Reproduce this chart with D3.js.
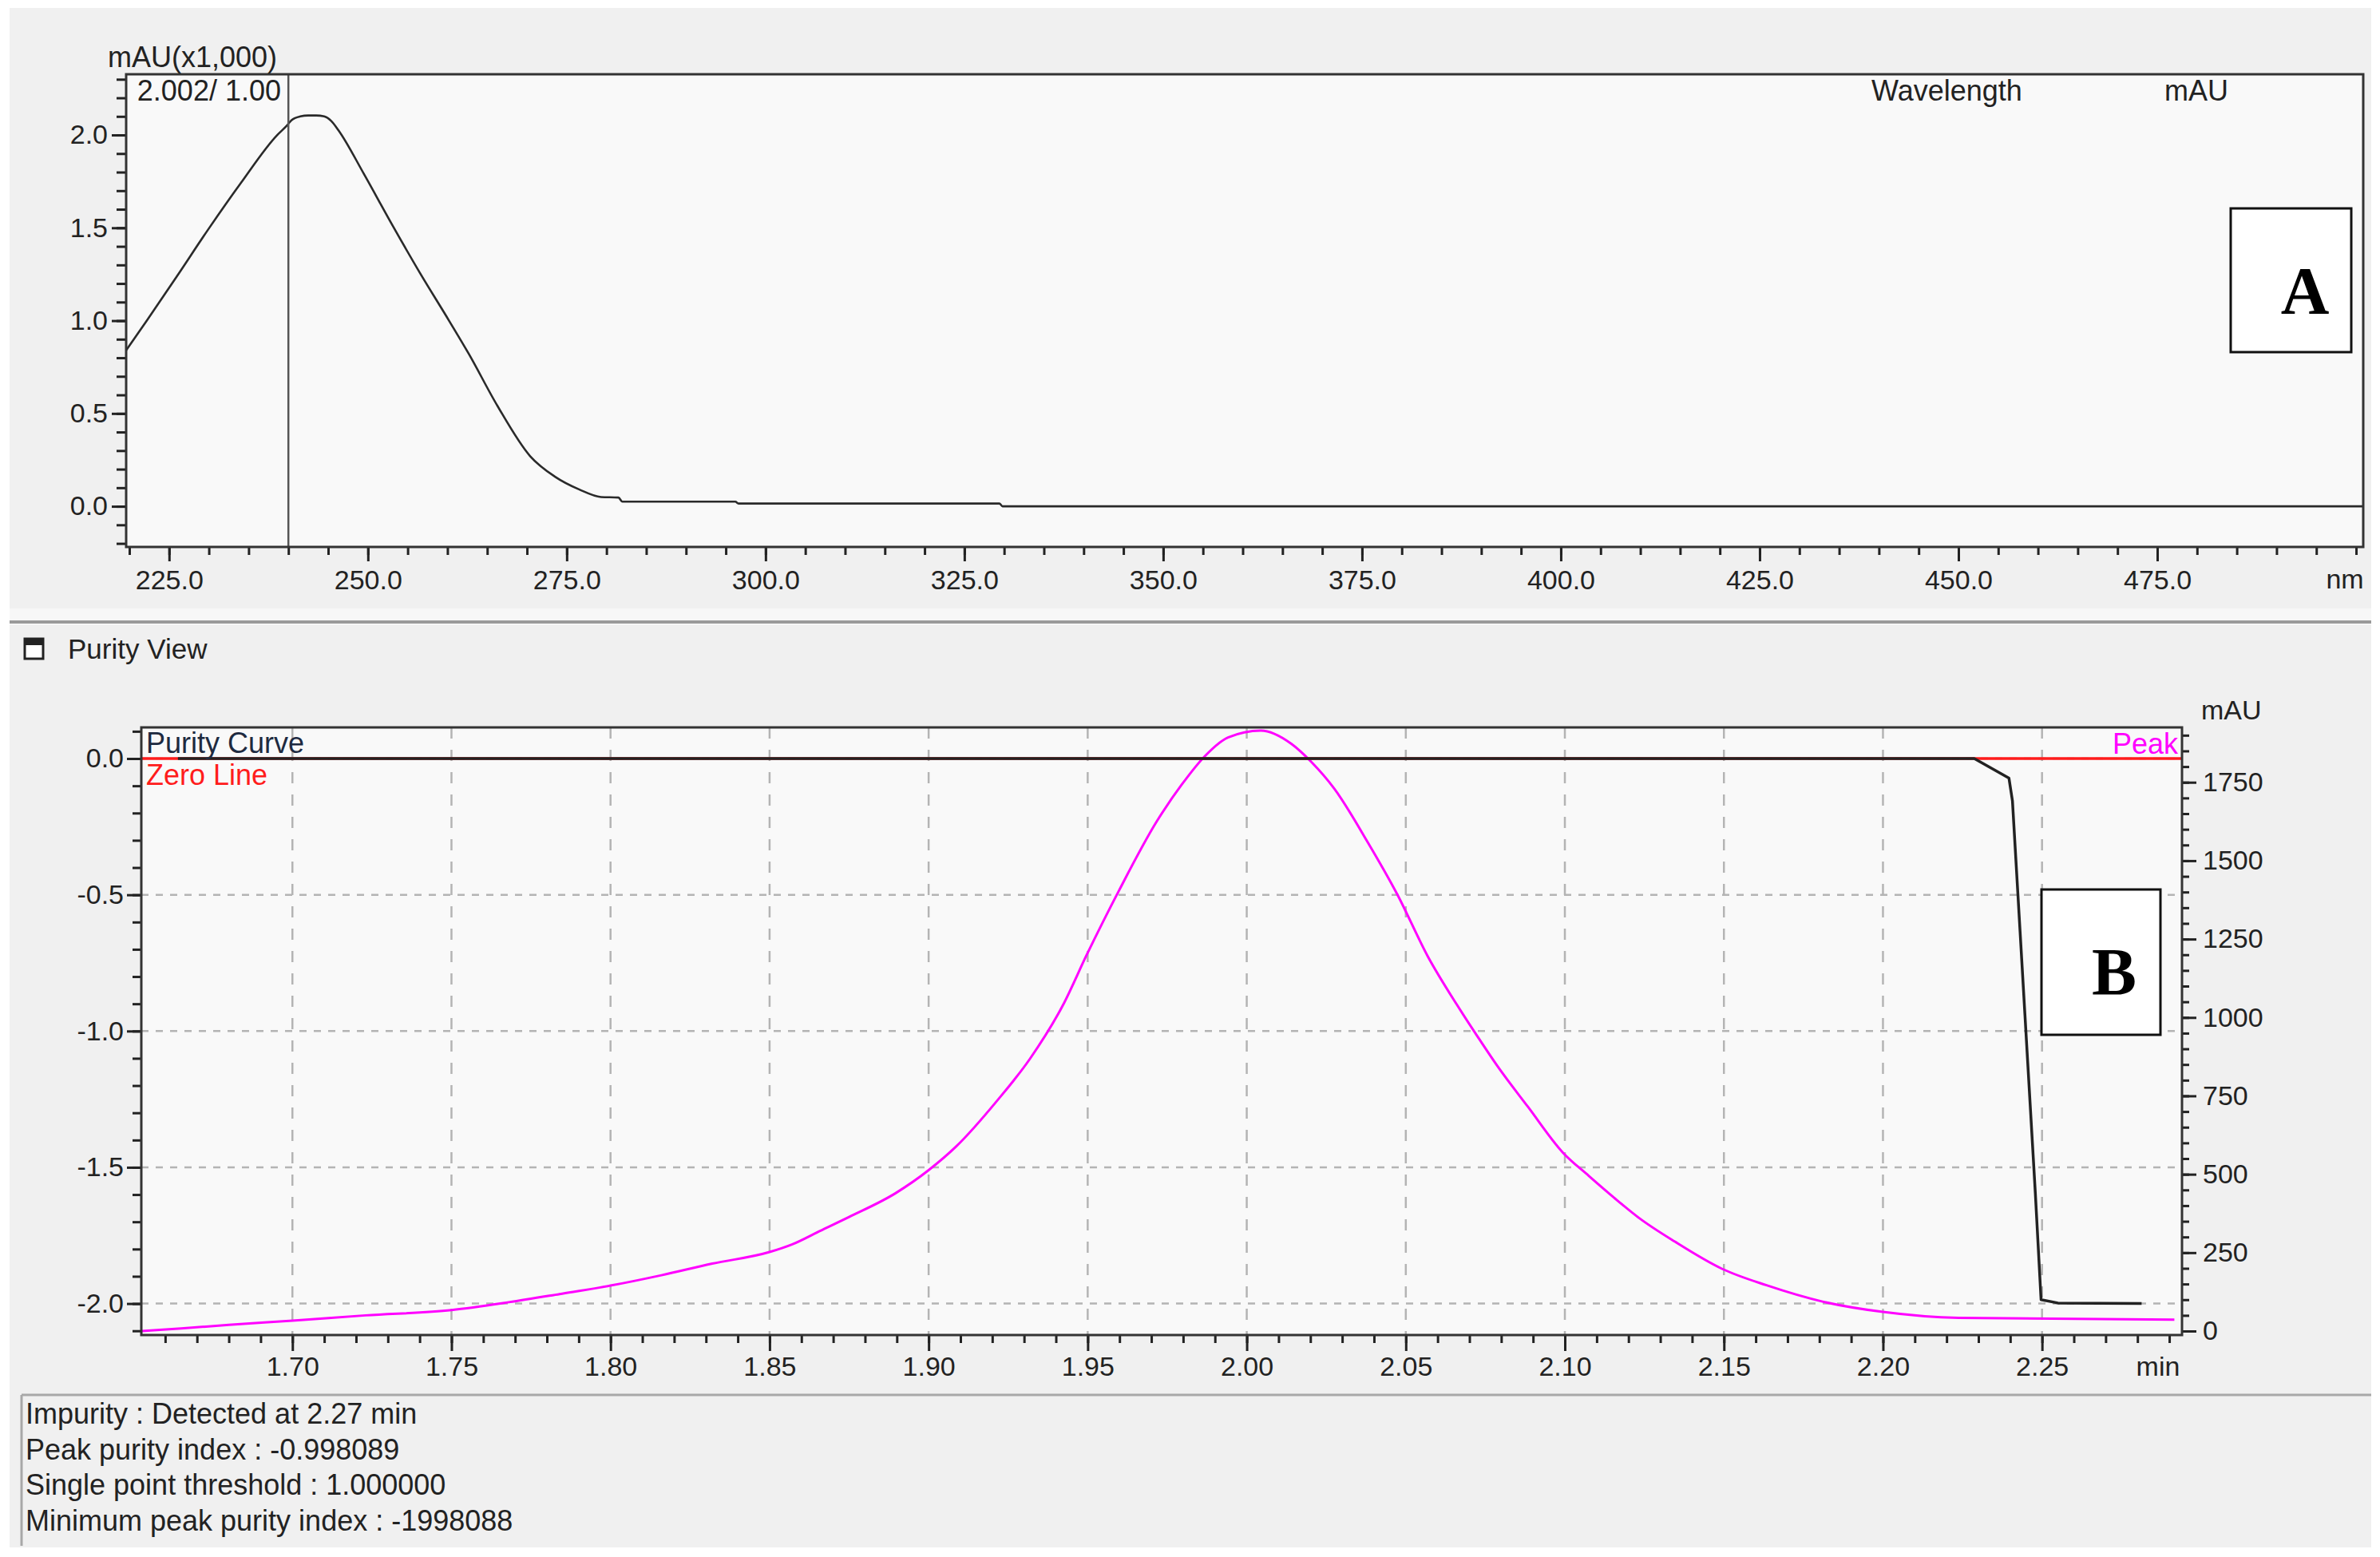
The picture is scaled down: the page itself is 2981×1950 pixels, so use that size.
<!DOCTYPE html>
<html><head><meta charset="utf-8">
<script src="https://cdn.jsdelivr.net/npm/d3@7"></script>
<style>
html,body{margin:0;padding:0;background:#fff;}
svg{display:block;font-family:"Liberation Sans",Arial,sans-serif;}
</style></head><body>
<svg id="c" width="2981" height="1950"></svg>
<script>
// ---------- Panel A : UV spectrum ----------
const specWavelength = [219.6, 222.2, 226, 229.9, 234, 238.6, 239.8, 240.4, 241.5, 242.5, 243.5, 244.5, 245.4, 246.3, 249.5, 253, 256.5, 260.2, 262.7, 266.3, 270.4, 273.5, 276.6, 279.3, 281.5, 282, 296.2, 296.6, 329.4, 329.8, 500.9];
const specAbs = [0.84, 1.00, 1.24, 1.49, 1.74, 2.00, 2.05, 2.08, 2.10, 2.105, 2.105, 2.10, 2.075, 2.025, 1.79, 1.52, 1.26, 1.00, 0.82, 0.54, 0.27, 0.16, 0.09, 0.05, 0.047, 0.025, 0.025, 0.015, 0.015, 0.0, 0.0];
const specXTicks = [225, 250, 275, 300, 325, 350, 375, 400, 425, 450, 475];
const specYTicks = [0, 0.5, 1.0, 1.5, 2.0];
const cursorWavelength = 240;
const specLabels = ["mAU(x1,000)", "2.002/ 1.00", "Wavelength", "mAU", "nm"];

// ---------- Panel B : Purity view ----------
const peakTime = [1.6527, 1.665, 1.68, 1.70, 1.723, 1.75, 1.768, 1.784, 1.80, 1.816, 1.832, 1.85, 1.857, 1.866, 1.875, 1.8895, 1.90, 1.9087, 1.9214, 1.9319, 1.9422, 1.9498, 1.9598, 1.9717, 1.9796, 1.9869, 1.9941, 2.0044, 2.014, 2.0203, 2.0275, 2.0379, 2.0474, 2.0569, 2.0661, 2.0725, 2.0788, 2.0884, 2.0993, 2.1075, 2.1155, 2.1234, 2.1346, 2.1495, 2.1634, 2.181, 2.20, 2.2238, 2.2916];
const peakMAU = [0, 8, 20, 33, 50, 67, 92, 118, 145, 178, 215, 252, 276, 320, 364, 439, 513, 589, 733, 869, 1039, 1202, 1404, 1625, 1743, 1834, 1893, 1915, 1873, 1815, 1730, 1561, 1391, 1195, 1040, 940, 845, 715, 570, 495, 425, 360, 285, 198, 146, 94, 61, 42, 36];
const purityTime = [1.664, 2.2287, 2.2396, 2.2407, 2.2431, 2.2455, 2.2479, 2.2497, 2.255, 2.2813];
const purityValue = [0, 0, -0.072, -0.155, -0.635, -1.115, -1.596, -1.986, -1.998, -2.0];
const zeroTime = [1.6525, 2.294];
const zeroValue = [0, 0];
const timeTicks = [1.70, 1.75, 1.80, 1.85, 1.90, 1.95, 2.00, 2.05, 2.10, 2.15, 2.20, 2.25];
const purityTicks = [0.0, -0.5, -1.0, -1.5, -2.0];
const mauTicks = [0, 250, 500, 750, 1000, 1250, 1500, 1750];
const infoLines = ["Impurity : Detected at 2.27 min", "Peak purity index : -0.998089", "Single point threshold : 1.000000", "Minimum peak purity index : -1998088"];

const svg = d3.select('#c');
const INK = '#222';

// ---------- backgrounds ----------
svg.append('rect').attr('x', 12).attr('y', 10).attr('width', 2958).attr('height', 752).attr('fill', '#f0f0f0');
svg.append('rect').attr('x', 12).attr('y', 762).attr('width', 2958).attr('height', 15).attr('fill', '#f7f7f7');
svg.append('line').attr('x1', 12).attr('x2', 2970).attr('y1', 779).attr('y2', 779).attr('stroke', '#9a9a9a').attr('stroke-width', 4);
svg.append('rect').attr('x', 12).attr('y', 782).attr('width', 2958).attr('height', 1156).attr('fill', '#f0f0f0');

// ---------- Panel A ----------
const A = {l: 158, r: 2960, t: 93, b: 685};
const xA = d3.scaleLinear().domain([219.6, 500.9]).range([A.l, A.r]);
const yA = d3.scaleLinear().domain([-0.219, 2.327]).range([A.b, A.t]);

svg.append('rect').attr('x', A.l).attr('y', A.t).attr('width', A.r - A.l).attr('height', A.b - A.t).attr('fill', '#f9f9f9');

function styleAxis(g) {
  g.select('.domain').remove();
  g.selectAll('.tick line').attr('stroke', INK).attr('stroke-width', 3);
  g.selectAll('.tick text').attr('fill', INK).attr('font-size', 34).attr('font-family', '"Liberation Sans",Arial,sans-serif');
}

svg.append('g').attr('transform', `translate(0,${A.b})`)
  .call(d3.axisBottom(xA).tickValues(d3.range(220, 501, 5)).tickSize(10).tickFormat(''))
  .call(styleAxis);
svg.append('g').attr('transform', `translate(0,${A.b})`)
  .call(d3.axisBottom(xA).tickValues(specXTicks).tickSize(18).tickPadding(11).tickFormat(d => d.toFixed(1)))
  .call(styleAxis);
svg.append('g').attr('transform', `translate(${A.l},0)`)
  .call(d3.axisLeft(yA).tickValues(d3.range(-2, 24).map(v => v / 10)).tickSize(12).tickFormat(''))
  .call(styleAxis);
svg.append('g').attr('transform', `translate(${A.l},0)`)
  .call(d3.axisLeft(yA).tickValues(specYTicks).tickSize(18).tickPadding(5).tickFormat(d => d.toFixed(1)))
  .call(styleAxis);

const specData = specWavelength.map((w, i) => [w, specAbs[i]]);
svg.append('path').datum(specData)
  .attr('d', d3.line().curve(d3.curveMonotoneX).x(d => xA(d[0])).y(d => yA(d[1])))
  .attr('fill', 'none').attr('stroke', '#2a2a2a').attr('stroke-width', 2.6).attr('stroke-linejoin', 'round');

svg.append('line').attr('x1', xA(cursorWavelength)).attr('x2', xA(cursorWavelength))
  .attr('y1', A.t).attr('y2', A.b).attr('stroke', '#555').attr('stroke-width', 2.5);

svg.append('rect').attr('x', A.l).attr('y', A.t).attr('width', A.r - A.l).attr('height', A.b - A.t)
  .attr('fill', 'none').attr('stroke', '#333').attr('stroke-width', 3);

const txt = (x, y, s, opts = {}) => svg.append('text').attr('x', x).attr('y', y).text(s)
  .attr('font-size', opts.size || 36).attr('fill', opts.fill || INK)
  .attr('text-anchor', opts.anchor || 'start')
  .attr('font-family', opts.family || '"Liberation Sans",Arial,sans-serif')
  .attr('font-weight', opts.weight || 'normal');
txt(135, 84, specLabels[0]);
txt(352, 126, specLabels[1], {anchor: 'end'});
txt(2344, 126, specLabels[2]);
txt(2711, 126, specLabels[3]);
txt(2937, 737, specLabels[4], {anchor: 'middle', size: 34});

svg.append('rect').attr('x', 2794).attr('y', 261).attr('width', 151).attr('height', 180)
  .attr('fill', '#fff').attr('stroke', '#111').attr('stroke-width', 3);
txt(2887, 393, 'A', {anchor: 'middle', size: 84, weight: 'bold', family: '"Liberation Serif","Times New Roman",serif', fill: '#000'});

// ---------- Panel B ----------
svg.append('rect').attr('x', 31).attr('y', 800).attr('width', 23).attr('height', 25).attr('fill', '#fff').attr('stroke', INK).attr('stroke-width', 3);
svg.append('rect').attr('x', 31).attr('y', 800).attr('width', 23).attr('height', 8).attr('fill', INK);
txt(85, 825, 'Purity View', {size: 35});

const B = {l: 177, r: 2733, t: 911, b: 1672};
const xB = d3.scaleLinear().domain([1.6525, 2.294]).range([B.l, B.r]);
const yL = d3.scaleLinear().domain([-2.1155, 0.1143]).range([B.b, B.t]);
const yR = d3.scaleLinear().domain([-12.7, 1925]).range([B.b, B.t]);

svg.append('rect').attr('x', B.l).attr('y', B.t).attr('width', B.r - B.l).attr('height', B.b - B.t).attr('fill', '#f9f9f9');

const grid = svg.append('g').attr('stroke', '#b4b4b4').attr('stroke-width', 2.5);
grid.selectAll('line.v').data(timeTicks).join('line')
  .attr('x1', d => xB(d)).attr('x2', d => xB(d)).attr('y1', B.t).attr('y2', B.b)
  .attr('stroke-dasharray', '14 14');
grid.selectAll('line.h').data(purityTicks).join('line')
  .attr('x1', B.l).attr('x2', B.r).attr('y1', d => yL(d)).attr('y2', d => yL(d))
  .attr('stroke-dasharray', '9 9');

svg.append('g').attr('transform', `translate(0,${B.b})`)
  .call(d3.axisBottom(xB).tickValues(d3.range(166, 230).map(v => v / 100)).tickSize(10).tickFormat(''))
  .call(styleAxis);
svg.append('g').attr('transform', `translate(0,${B.b})`)
  .call(d3.axisBottom(xB).tickValues(timeTicks).tickSize(20).tickPadding(7).tickFormat(d => d.toFixed(2)))
  .call(styleAxis);
svg.append('g').attr('transform', `translate(${B.l},0)`)
  .call(d3.axisLeft(yL).tickValues(d3.range(-21, 2).map(v => v / 10)).tickSize(11).tickFormat(''))
  .call(styleAxis);
svg.append('g').attr('transform', `translate(${B.l},0)`)
  .call(d3.axisLeft(yL).tickValues(purityTicks).tickSize(18).tickPadding(4).tickFormat(d => d.toFixed(1)))
  .call(styleAxis);
svg.append('g').attr('transform', `translate(${B.r},0)`)
  .call(d3.axisRight(yR).tickValues(d3.range(0, 1901, 50)).tickSize(9).tickFormat(''))
  .call(styleAxis);
svg.append('g').attr('transform', `translate(${B.r},0)`)
  .call(d3.axisRight(yR).tickValues(mauTicks).tickSize(18).tickPadding(8).tickFormat(d => String(d)))
  .call(styleAxis);

const peakData = peakTime.map((t, i) => [t, peakMAU[i]]);
svg.append('path').datum(peakData)
  .attr('d', d3.line().curve(d3.curveMonotoneX).x(d => xB(d[0])).y(d => yR(d[1])))
  .attr('fill', 'none').attr('stroke', '#ff00ff').attr('stroke-width', 3).attr('stroke-linejoin', 'round');
const zeroData = zeroTime.map((t, i) => [t, zeroValue[i]]);
svg.append('path').datum(zeroData)
  .attr('d', d3.line().x(d => xB(d[0])).y(d => yL(d[1])))
  .attr('fill', 'none').attr('stroke', '#ff1c1c').attr('stroke-width', 3.5);
const purityData = purityTime.map((t, i) => [t, purityValue[i]]);
svg.append('path').datum(purityData)
  .attr('d', d3.line().x(d => xB(d[0])).y(d => yL(d[1])))
  .attr('fill', 'none').attr('stroke', '#222').attr('stroke-width', 3.5).attr('stroke-linejoin', 'round');

svg.append('rect').attr('x', B.l).attr('y', B.t).attr('width', B.r - B.l).attr('height', B.b - B.t)
  .attr('fill', 'none').attr('stroke', '#333').attr('stroke-width', 3);

txt(183, 943, 'Purity Curve', {fill: '#1e2a40'});
txt(183, 983, 'Zero Line', {fill: '#ff1c1c'});
txt(2728, 944, 'Peak', {anchor: 'end', fill: '#ff00ff'});
txt(2757, 901, 'mAU', {size: 34});
txt(2703, 1723, 'min', {anchor: 'middle', size: 34});

svg.append('rect').attr('x', 2557).attr('y', 1114).attr('width', 149).attr('height', 182)
  .attr('fill', '#fff').attr('stroke', '#111').attr('stroke-width', 3);
txt(2648, 1246, 'B', {anchor: 'middle', size: 84, weight: 'bold', family: '"Liberation Serif","Times New Roman",serif', fill: '#000'});

// ---------- info box ----------
svg.append('line').attr('x1', 27).attr('x2', 2970).attr('y1', 1747).attr('y2', 1747).attr('stroke', '#a8a8a8').attr('stroke-width', 3);
svg.append('line').attr('x1', 27).attr('x2', 27).attr('y1', 1747).attr('y2', 1936).attr('stroke', '#a8a8a8').attr('stroke-width', 3);
const infoBase = [1783, 1828, 1872, 1917];
svg.selectAll('text.info').data(infoLines).join('text').attr('class', 'info')
  .attr('x', 32).attr('y', (d, i) => infoBase[i]).text(d => d)
  .attr('font-size', 36).attr('fill', INK);
</script>
</body></html>
